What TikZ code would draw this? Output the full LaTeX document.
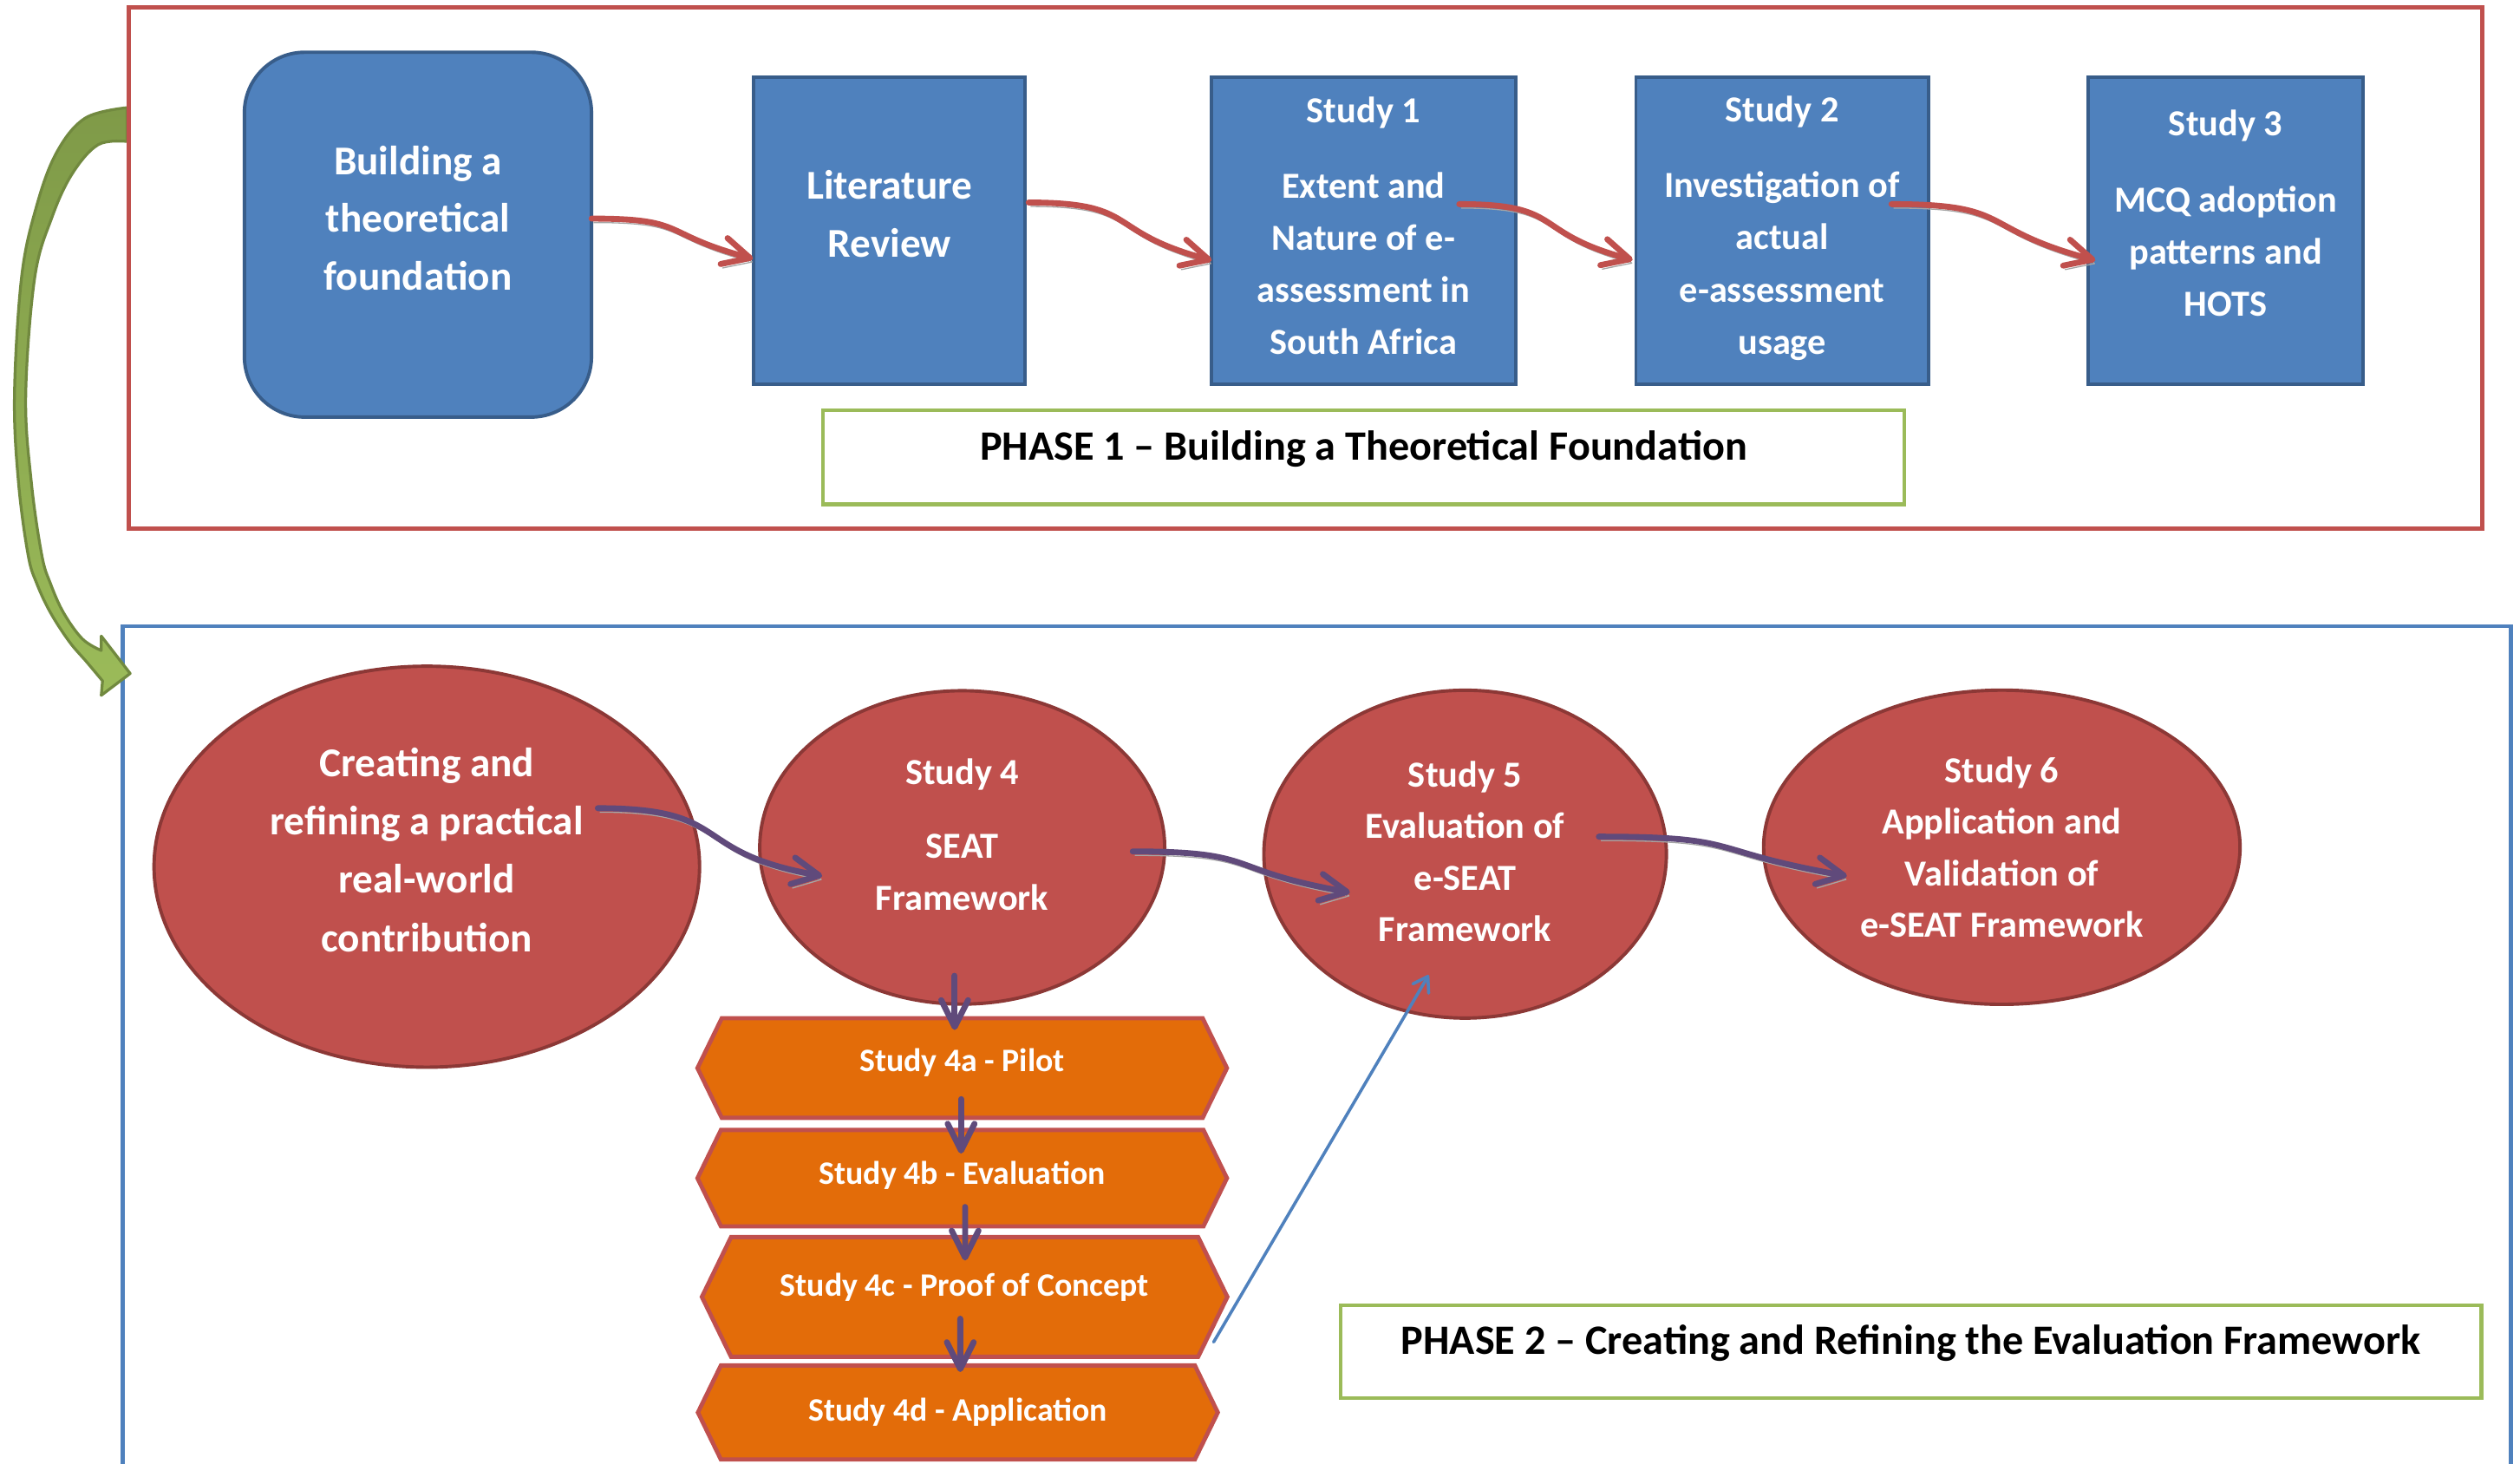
\documentclass[tikz,border=0pt]{standalone}
\usepackage{fontspec}
\setmainfont{Carlito}
\usepackage{tikz}
\usetikzlibrary{positioning}
\usetikzlibrary{arrows.meta}
\usetikzlibrary{shapes.geometric}
\usetikzlibrary{shapes.symbols}

\definecolor{bluefill}{HTML}{4F81BD}
\definecolor{blueline}{HTML}{385D8A}
\definecolor{redfill}{HTML}{C0504D}
\definecolor{redline}{HTML}{8C3836}
\definecolor{orangefill}{HTML}{E36C09}
\definecolor{greenline}{HTML}{9BBB59}
\definecolor{greendark}{HTML}{7F9A48}
\definecolor{greenedge}{HTML}{71893F}
\definecolor{purpleline}{HTML}{604A7B}
\definecolor{shadowgray}{HTML}{A5A5A5}

\newcommand{\lowpad}[1]{\rule[-#1]{0pt}{#1}} % pushes the text of a node up a little

\tikzset{node distance=2.5cm, % only used through right of / below of
block/.style={ % blue boxes of phase 1
rectangle,
draw=blueline,
fill=bluefill,
line width=1.2pt,
text=white,
align=center,
inner sep=0pt,
minimum height=3.82cm,
font=\fontsize{13}{18.45}\selectfont\bfseries},
bubble/.style={ % red ellipses of phase 2
ellipse,
draw=redline,
fill=redfill,
line width=1.2pt,
text=white,
align=center,
inner sep=0pt,
font=\fontsize{13}{18.3}\selectfont\bfseries},
hexa/.style={ % orange sub studies
signal,
signal to=west and east,
signal pointer angle=128,
draw=redfill,
fill=orangefill,
line width=1.5pt,
text=white,
inner sep=0pt,
font=\fontsize{11.6}{14}\selectfont\bfseries},
phase/.style={ % green title boxes
rectangle,
draw=greenline,
fill=white,
line width=1.3pt,
inner sep=0pt,
font=\fontsize{14.8}{17}\selectfont\bfseries},
every edge/.style={ % sets the properties for each connector
draw,
->,>={Straight Barb[round,length=9.5pt,width=9.5pt]},
line width=2.1pt,
line cap=round},
shadowed/.style={preaction={draw=shadowgray, transform canvas={xshift=0.7pt,yshift=-1.4pt}}},
redflow/.style={draw=redfill, shadowed, out=0, in=165, looseness=1.5},
purpleflow/.style={draw=purpleline, shadowed, out=0, in=170, looseness=1.5},
purpledown/.style={draw=purpleline},
bluearrow/.style={draw=bluefill, line width=1.1pt, -{Straight Barb[round,length=5pt,width=6.5pt]}}}

\begin{document}
\begin{tikzpicture}[x=0.02cm, y=-0.02cm]
	\clip (0,0) rectangle (1568,910.8);

	% frames of the two phases
	\draw[draw=bluefill, line width=1.5pt] (76.4,930) -- (76.4,389.6) -- (1562.4,389.6) -- (1562.4,930);
	\draw[draw=greenedge, line width=1pt, line join=round, top color=greendark, bottom color=greenline]
		plot[smooth, tension=0.6] coordinates {(79,67) (53,73.5) (35,95.3) (22.4,129.5) (13.4,172.7) (9,246) (11.5,300) (17.5,345.3) (23,363.3) (31.5,381.3) (43.2,399.3) (54,411.9) (63.8,423.6)}
		-- (63,432.6) -- (81,419) -- (63,395.7)
		-- plot[smooth, tension=0.6] coordinates {(63,404.7) (51.3,397.5) (39.6,381.3) (31.5,363.3) (26,345.3) (19.5,300) (16,246) (21.6,172.7) (32.4,135) (45,108) (61.1,90) (79,88)} -- cycle;
	\draw[draw=redfill, line width=1.5pt] (80,4.5) rectangle (1544.3,329);

	% phase 1
	\node[block, minimum width=3.38cm, font=\fontsize{14.5}{20.5}\selectfont\bfseries] (lit) at (553.5,143.5) {Literature\\Review\lowpad{12pt}};
	\node[block, left of=lit, node distance=5.87cm, yshift=-0.05cm, rounded corners=0.75cm, minimum width=4.32cm, minimum height=4.54cm, font=\fontsize{14.5}{20.5}\selectfont\bfseries] (found) {Building a\\theoretical\\foundation\lowpad{11.8pt}};
	\node[block, right of=lit, node distance=5.9cm, minimum width=3.78cm] (s1) {Study 1\\[8.4pt]Extent and\\Nature of e-\\assessment in\\South Africa\lowpad{3.5pt}};
	\node[block, right of=s1, node distance=5.21cm, minimum width=3.64cm] (s2) {Study 2\\[8.4pt]Investigation of\\actual\\e-assessment\\usage\lowpad{4pt}};
	\node[block, right of=s2, node distance=5.52cm, minimum width=3.42cm] (s3) {Study 3\\[8.4pt]MCQ adoption\\patterns and\\HOTS\lowpad{12.4pt}};
	\node[phase, below of=s1, node distance=2.82cm, minimum width=13.46cm, minimum height=1.17cm] (ph1) {PHASE 1 – Building a Theoretical Foundation\lowpad{8.3pt}};

	% phase 2
	\node[bubble, minimum width=5.04cm, minimum height=3.9cm] (s4) at (598.7,527.2) {Study 4\\[8pt]SEAT\\Framework\lowpad{9.2pt}};
	\node[bubble, left of=s4, node distance=6.664cm, yshift=-0.24cm, minimum width=6.79cm, minimum height=4.99cm, font=\fontsize{14.5}{20.7}\selectfont\bfseries] (create) {Creating and\\refining a practical\\real-world\\contribution\lowpad{12.1pt}};
	\node[bubble, right of=s4, node distance=6.26cm, yshift=-0.084cm, minimum width=5.01cm, minimum height=4.08cm] (s5) {Study 5\\Evaluation of\\e-SEAT\\Framework\lowpad{2pt}};
	\node[bubble, right of=s5, node distance=6.68cm, yshift=0.086cm, minimum width=5.93cm, minimum height=3.91cm] (s6) {Study 6\\Application and\\Validation of\\e-SEAT Framework};

	\node[hexa, below of=s4, node distance=2.746cm, minimum width=6.59cm, minimum height=1.24cm] (h4a) {Study 4a - Pilot\lowpad{5.5pt}};
	\node[hexa, below of=h4a, node distance=1.37cm, minimum width=6.59cm, minimum height=1.2cm] (h4b) {Study 4b - Evaluation\lowpad{3.6pt}};
	\node[hexa, below of=h4b, node distance=1.478cm, xshift=0.03cm, minimum width=6.54cm, minimum height=1.49cm] (h4c) {Study 4c - Proof of Concept\lowpad{8.4pt}};
	\node[hexa, below of=h4c, node distance=1.438cm, xshift=-0.084cm, minimum width=6.47cm, minimum height=1.17cm] (h4d) {Study 4d - Application};

	\node[phase, minimum width=14.2cm, minimum height=1.154cm] (ph2) at (1189,840.9) {PHASE 2 – Creating and Refining the Evaluation Framework\lowpad{8.8pt}};

	% connectors of phase 1
	\draw ([shift={(-1,-10)}]found.east) edge[redflow] ([shift={(0.5,17.5)}]lit.west);
	\draw ([shift={(1,-17.5)}]lit.east) edge[redflow] ([shift={(1,18.5)}]s1.west);
	\draw ([shift={(-36,-16.5)}]s1.east) edge[redflow] ([shift={(-1,18.2)}]s2.west);
	\draw ([shift={(-24,-16.5)}]s2.east) edge[redflow] ([shift={(5.5,18.5)}]s3.west);

	% connectors of phase 2
	\draw ([shift={(106.4,-36.4)}]create.center) edge[purpleflow] ([shift={(-87.1,17.8)}]s4.center);
	\draw ([shift={(106.1,2.5)}]s4.center) edge[purpleflow] ([shift={(-71.7,23.8)}]s5.center);
	\draw ([shift={(83.2,-10.9)}]s5.center) edge[purpleflow] ([shift={(-96.4,17.9)}]s6.center);

	\draw ([shift={(-4.7,-18.7)}]s4.south) edge[purpledown] ([shift={(-4.7,8.6)}]h4a.north);
	\draw ([shift={(-0.7,-13)}]h4a.south) edge[purpledown] ([shift={(-0.7,16)}]h4b.north);
	\draw ([shift={(1.8,-13.4)}]h4b.south) edge[purpledown] ([shift={(0.3,15.9)}]h4c.north);
	\draw ([shift={(-2.7,-25)}]h4c.south) edge[purpledown] ([shift={(1.5,5.4)}]h4d.north);

	\draw ([shift={(-10,28.1)}]h4c.east) edge[bluearrow] ([shift={(-22.7,75.2)}]s5.center);
\end{tikzpicture}
\end{document}
